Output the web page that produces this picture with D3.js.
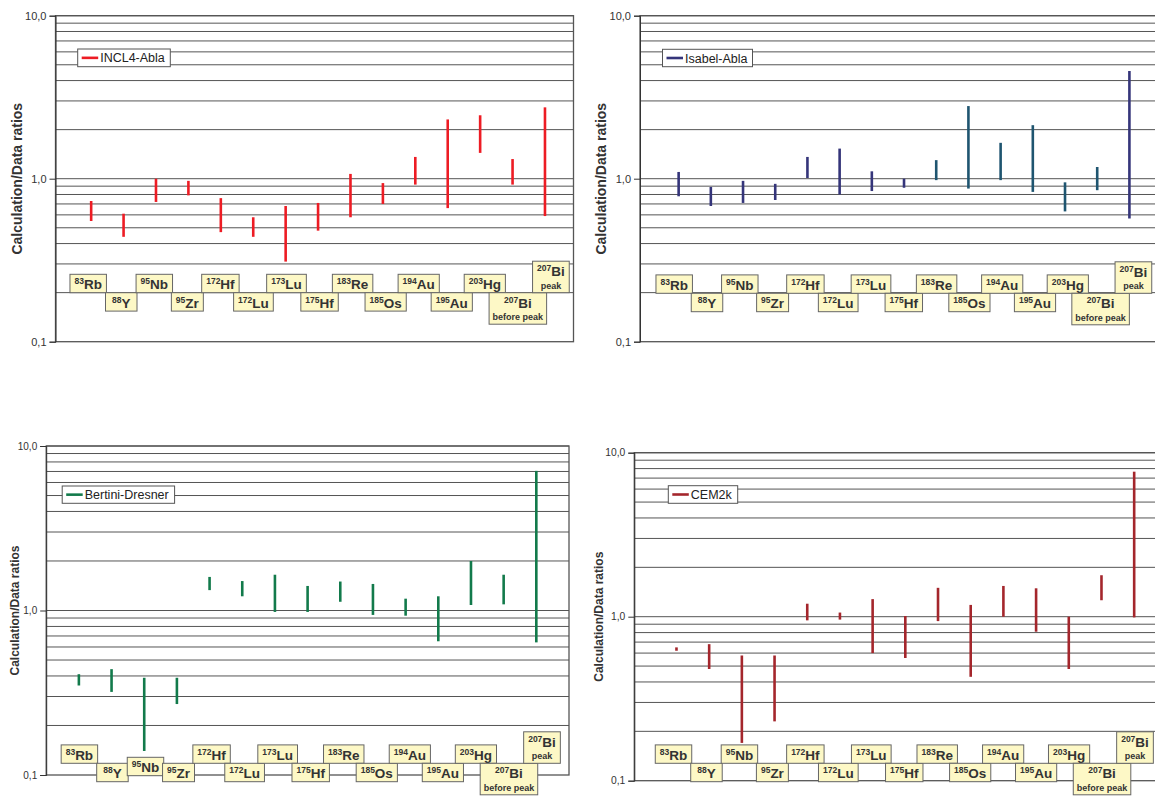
<!DOCTYPE html>
<html>
<head>
<meta charset="utf-8">
<script src="https://cdn.jsdelivr.net/npm/d3@7"></script>
<style>
body { margin: 0; background: #fff; }
svg { display: block; font-family: Arial, "Liberation Sans", sans-serif; }
</style>
</head>
<body>
<svg id="chart" width="1155" height="796"></svg>
<script>
// isotopes along the x axis
const masses   = ["83", "88", "95", "95", "172", "172", "173", "175", "183", "185", "194", "195", "203", "207", "207"];
const elements = ["Rb", "Y", "Nb", "Zr", "Hf", "Lu", "Lu", "Hf", "Re", "Os", "Au", "Au", "Hg", "Bi", "Bi"];
const notes    = ["", "", "", "", "", "", "", "", "", "", "", "", "", "before peak", "peak"];
const xPos = d3.range(1, 16);

// calculation / data ratio ranges (min, max)
const incl4Low   = [0.55, 0.44, 0.72, 0.79, 0.47, 0.44, 0.31, 0.48, 0.58, 0.70, 0.92, 0.66, 1.44, 0.92, 0.59];
const incl4High  = [0.73, 0.61, 1.00, 0.97, 0.76, 0.58, 0.68, 0.71, 1.07, 0.94, 1.36, 2.31, 2.45, 1.32, 2.74];
const isabelLow  = [0.78, 0.68, 0.71, 0.74, 1.01, 0.80, 0.84, 0.88, 0.98, 0.87, 0.98, 0.83, 0.63, 0.85, 0.57];
const isabelHigh = [1.10, 0.89, 0.97, 0.93, 1.36, 1.53, 1.11, 1.00, 1.30, 2.79, 1.66, 2.13, 0.95, 1.18, 4.58];
const bertiniLow  = [0.35, 0.32, 0.14, 0.27, 1.33, 1.22, 0.98, 0.98, 1.13, 0.94, 0.93, 0.65, 1.08, 1.09, 0.64];
const bertiniHigh = [0.41, 0.44, 0.39, 0.39, 1.60, 1.51, 1.65, 1.41, 1.50, 1.45, 1.18, 1.22, 2.00, 1.65, 7.06];
const cemLow  = [0.62, 0.48, 0.17, 0.23, 0.95, 0.96, 0.60, 0.56, 0.94, 0.43, 1.00, 0.81, 0.48, 1.26, 0.99];
const cemHigh = [0.65, 0.68, 0.58, 0.58, 1.20, 1.06, 1.28, 1.01, 1.50, 1.18, 1.54, 1.49, 1.00, 1.79, 7.66];

const yTickValues = [0.1, 1, 10];
const yTickLabels = ["0,1", "1,0", "10,0"];

const svg = d3.select("#chart");

const panels = [
  { name: "INCL4-Abla", low: incl4Low, high: incl4High, color: "#ed1c24",
    left: 55.5, right: 573.5, top: 15.7, bottom: 341.7, xDomain: [-0.1, 15.88],
    labelRange: [88.2, 550.9], rowSplit: 292.7, tickFont: 11, titleFont: 14, titleX: 17,
    legend: { x: 77.7, y: 49, w: 92.6, h: 17.7 } },
  { name: "Isabel-Abla", low: isabelLow, high: isabelHigh, color: "#35357a",
    altColor: "#1f5570", altFrom: 8, altTo: 13,
    left: 640, right: 1160, top: 15.7, bottom: 341.7, xDomain: [-0.2, 15.95],
    labelRange: [674.2, 1133.4], rowSplit: 293.3, tickFont: 11, titleFont: 14, titleX: 601,
    legend: { x: 662.5, y: 49.3, w: 90, h: 17.4 } },
  { name: "Bertini-Dresner", low: bertiniLow, high: bertiniHigh, color: "#127a4b",
    left: 46.2, right: 569, top: 446, bottom: 775, xDomain: [0, 16],
    labelRange: [79.4, 542], rowSplit: 763.3, tickFont: 10, titleFont: 12, titleX: 15,
    shift: { 2: 12.4 },
    legend: { x: 62.2, y: 486, w: 112.4, h: 17.3 } },
  { name: "CEM2k", low: cemLow, high: cemHigh, color: "#a4262c",
    left: 634.3, right: 1160, top: 452.7, bottom: 780.7, xDomain: [-0.29, 15.79],
    labelRange: [673.5, 1135], rowSplit: 763.3, tickFont: 10.3, titleFont: 12, titleX: 599,
    legend: { x: 668.3, y: 485.7, w: 69.4, h: 17.6 } }
];

panels.forEach(p => {
  const g = svg.append("g");
  const y = d3.scaleLog().domain([0.1, 10]).range([p.bottom, p.top]);
  const x = d3.scaleLinear().domain(p.xDomain).range([p.left, p.right]);
  const lx = d3.scaleLinear().domain([1, 15]).range(p.labelRange);

  // minor/major gridlines
  g.append("g").selectAll("line")
    .data(y.ticks().filter(v => v > 0.1))
    .join("line")
    .attr("x1", p.left).attr("x2", p.right)
    .attr("y1", d => y(d)).attr("y2", d => y(d))
    .attr("stroke", "#555").attr("stroke-width", 1);

  // plot frame
  g.append("rect")
    .attr("x", p.left).attr("y", p.top)
    .attr("width", p.right - p.left).attr("height", p.bottom - p.top)
    .attr("fill", "none").attr("stroke", "#555").attr("stroke-width", 1.3);

  // y axis
  const axis = g.append("g")
    .attr("transform", `translate(${p.left},0)`)
    .call(d3.axisLeft(y).tickValues(yTickValues).tickSize(6).tickPadding(3)
      .tickFormat((d, i) => yTickLabels[i]));
  axis.select(".domain").attr("stroke", "#333");
  axis.selectAll(".tick line").attr("stroke", "#333");
  axis.selectAll(".tick text").attr("fill", "#333").attr("font-size", p.tickFont)
    .attr("font-family", "Arial, 'Liberation Sans', sans-serif");

  // y title
  g.append("text")
    .attr("transform", `translate(${p.titleX},${(p.top + p.bottom) / 2}) rotate(-90)`)
    .attr("text-anchor", "middle").attr("dominant-baseline", "central")
    .attr("font-size", p.titleFont).attr("font-weight", "bold").attr("fill", "#333")
    .text("Calculation/Data ratios");

  // ratio ranges
  g.append("g").selectAll("line")
    .data(xPos)
    .join("line")
    .attr("x1", d => x(d)).attr("x2", d => x(d))
    .attr("y1", (d, i) => y(p.low[i])).attr("y2", (d, i) => y(p.high[i]))
    .attr("stroke", (d, i) => (p.altColor && i >= p.altFrom && i <= p.altTo) ? p.altColor : p.color)
    .attr("stroke-width", 2.6);

  // isotope label boxes
  const labels = g.append("g").selectAll("g")
    .data(xPos)
    .join("g");
  labels.each(function (d, i) {
    const lg = d3.select(this);
    const tall = notes[i] !== "";
    const h = tall ? 31.5 : 18.4;
    const topRow = i % 2 === 0;
    let top = topRow ? p.rowSplit - h : p.rowSplit;
    if (p.shift && p.shift[i]) top += p.shift[i];
    const rect = lg.append("rect").attr("fill", "#fdf8c6").attr("stroke", "#666").attr("stroke-width", 1);
    const t = lg.append("text").attr("fill", "#333").attr("y", top + 15);
    t.append("tspan").attr("font-size", 8.5).attr("font-weight", "bold").attr("dy", -5).text(masses[i]);
    t.append("tspan").attr("font-size", 13.5).attr("font-weight", "bold").attr("dy", 5).text(elements[i]);
    const w1 = t.node().getComputedTextLength();
    let w = Math.max(31.5, w1 + 9);
    if (tall) {
      const n = lg.append("text").attr("fill", "#333").attr("font-size", 9).attr("font-weight", "bold")
        .attr("text-anchor", "middle").attr("x", lx(d)).attr("y", top + 27.3).text(notes[i]);
      w = Math.max(w, n.node().getComputedTextLength() + 7);
    }
    t.attr("x", lx(d) - w1 / 2);
    rect.attr("x", lx(d) - w / 2).attr("y", top).attr("width", w).attr("height", h);
  });

  // legend
  const L = p.legend;
  const lgd = g.append("g");
  lgd.append("rect").attr("x", L.x).attr("y", L.y).attr("width", L.w).attr("height", L.h)
    .attr("fill", "#fff").attr("stroke", "#555").attr("stroke-width", 1);
  lgd.append("line").attr("x1", L.x + 4).attr("x2", L.x + 20.5)
    .attr("y1", L.y + L.h / 2).attr("y2", L.y + L.h / 2)
    .attr("stroke", p.color).attr("stroke-width", 2.6);
  lgd.append("text").attr("x", L.x + 22.5).attr("y", L.y + L.h / 2 + 4.5)
    .attr("font-size", 12.5).attr("fill", "#222").text(p.name);
});
</script>
</body>
</html>
